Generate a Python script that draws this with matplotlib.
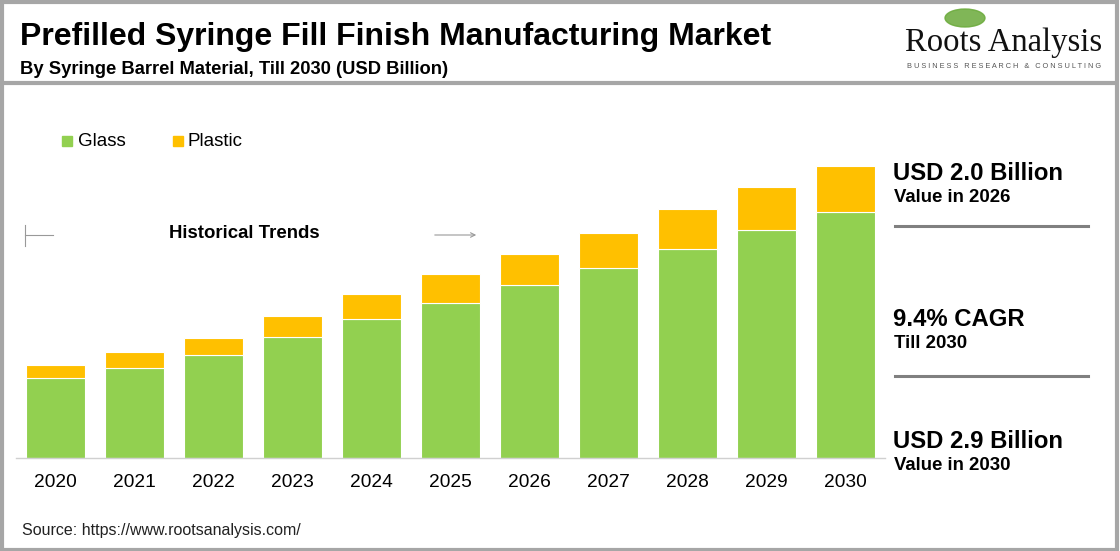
import matplotlib.pyplot as plt
import matplotlib.patches as mpatches
from matplotlib.lines import Line2D
import numpy as np

# data (USD Billion)
years = ['2020', '2021', '2022', '2023', '2024', '2025', '2026', '2027', '2028', '2029', '2030']
glass = [0.80, 0.90, 1.02, 1.20, 1.38, 1.54, 1.72, 1.89, 2.08, 2.27, 2.44]
plastic = [0.13, 0.15, 0.17, 0.21, 0.25, 0.29, 0.31, 0.35, 0.39, 0.42, 0.46]

GREEN = '#92D050'
YELLOW = '#FFC000'
GREY = '#a6a6a6'

W, H = 1120, 551
plt.rcParams['font.family'] = ['Liberation Sans', 'DejaVu Sans']
fig = plt.figure(figsize=(W / 100, H / 100), dpi=100)


def fx(px):
    return px / W


def fy(py):
    return 1 - py / H


# outer frame and header divider
fig.patches.append(mpatches.Rectangle((fx(1.5), fy(549.5)), fx(1115), 547.5 / H, transform=fig.transFigure,
                                      fill=False, edgecolor=GREY, linewidth=3))
fig.lines.append(Line2D([fx(2), fx(1116)], [fy(82.5), fy(82.5)], transform=fig.transFigure,
                        color=GREY, linewidth=3))

# titles
fig.text(fx(20), fy(37), 'Prefilled Syringe Fill Finish Manufacturing Market', fontsize=23,
         fontweight='bold', va='center', ha='left')
fig.text(fx(20), fy(69), 'By Syringe Barrel Material, Till 2030 (USD Billion)', fontsize=13.2,
         fontweight='bold', va='center', ha='left')

# logo
fig.patches.append(mpatches.Ellipse((fx(965), fy(18)), fx(40), 18 / H, transform=fig.transFigure,
                                    color='#6aaa3a', alpha=0.85))
fig.text(fx(1004), fy(43), 'Roots Analysis', family=['Liberation Serif', 'DejaVu Serif'],
         fontsize=23.5, va='center', ha='center', color='#111111')
fig.text(fx(1004), fy(67), 'B U S I N E S S   R E S E A R C H   &   C O N S U L T I N G',
         fontsize=5.3, va='center', ha='center', color='#555555')

# bar chart
ax = fig.add_axes([fx(16), (H - 458.3) / H, fx(869), 358.3 / H])
x = np.arange(len(years))
ax.bar(x, glass, width=0.75, color=GREEN, edgecolor='white', linewidth=0.8)
ax.bar(x, plastic, width=0.75, bottom=glass, color=YELLOW, edgecolor='white', linewidth=0.8)
ax.set_xlim(-0.5, 10.5)
ax.set_ylim(0, 3.555)
ax.set_xticks(x)
ax.set_xticklabels(years, fontsize=13.8)
ax.tick_params(axis='x', length=0, pad=11)
ax.set_yticks([])
for s in ['top', 'right', 'left']:
    ax.spines[s].set_visible(False)
ax.spines['bottom'].set_color('#d0d0d0')
ax.spines['bottom'].set_linewidth(1)

# legend
fig.patches.append(mpatches.Rectangle((fx(62), fy(146)), fx(10), 10 / H, transform=fig.transFigure,
                                      color=GREEN))
fig.text(fx(78), fy(141), 'Glass', fontsize=13.5, va='center', ha='left')
fig.patches.append(mpatches.Rectangle((fx(173), fy(146)), fx(10), 10 / H, transform=fig.transFigure,
                                      color=YELLOW))
fig.text(fx(188), fy(141), 'Plastic', fontsize=13.5, va='center', ha='left')

# historical trends marker
fig.text(fx(169), fy(234), 'Historical Trends', fontsize=13.4, fontweight='bold', va='center', ha='left')
fig.lines.append(Line2D([fx(25), fx(25)], [fy(225), fy(246)], transform=fig.transFigure,
                        color='#999999', linewidth=0.8))
fig.lines.append(Line2D([fx(25), fx(53)], [fy(235), fy(235)], transform=fig.transFigure,
                        color='#999999', linewidth=0.8))
fig.patches.append(mpatches.FancyArrowPatch((fx(432), fy(235)), (fx(479), fy(235)), transform=fig.transFigure,
                                            arrowstyle='->', mutation_scale=8, color='#999999',
                                            linewidth=0.8))

# right-hand key figures
facts = [('USD 2.0 Billion', 'Value in 2026', 173, 198),
         ('9.4% CAGR', 'Till 2030', 319, 343),
         ('USD 2.9 Billion', 'Value in 2030', 441, 466)]
for big, small, yb, ys in facts:
    fig.text(fx(893), fy(yb), big, fontsize=17.2, fontweight='bold', va='center', ha='left')
    fig.text(fx(894), fy(ys), small, fontsize=13.4, fontweight='bold', va='center', ha='left')
for yl in [226, 376]:
    fig.lines.append(Line2D([fx(895), fx(1088)], [fy(yl), fy(yl)], transform=fig.transFigure,
                            color='#808080', linewidth=2.2))

# source
fig.text(fx(22), fy(530), 'Source: https://www.rootsanalysis.com/', fontsize=11.5, va='center', ha='left',
         color='#222222')

fig.savefig('out.png', dpi=100)
